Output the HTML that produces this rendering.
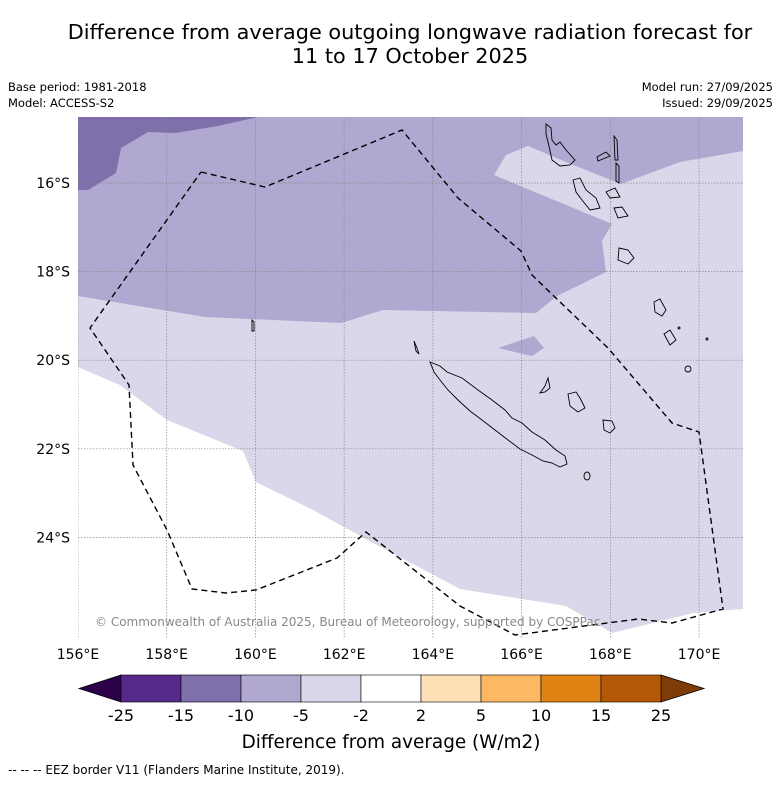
<!DOCTYPE html>
<html><head><meta charset="utf-8">
<style>
html,body{margin:0;padding:0;background:#fff;}
body{width:781px;height:781px;overflow:hidden;font-family:"DejaVu Sans","Liberation Sans",sans-serif;}
svg text{font-family:"DejaVu Sans","Liberation Sans",sans-serif;}
</style></head>
<body>
<svg id="chart" width="781" height="781" viewBox="0 0 781 781" xmlns="http://www.w3.org/2000/svg">
  <text x="410" y="39" font-size="20.8" text-anchor="middle" fill="#000">Difference from average outgoing longwave radiation forecast for</text>
  <text x="410" y="63" font-size="20.8" text-anchor="middle" fill="#000">11 to 17 October 2025</text>
  <text x="8" y="91" font-size="11.5">Base period: 1981-2018</text>
  <text x="8" y="107" font-size="11.5">Model: ACCESS-S2</text>
  <text x="773" y="91" font-size="11.5" text-anchor="end">Model run: 27/09/2025</text>
  <text x="773" y="107" font-size="11.5" text-anchor="end">Issued: 29/09/2025</text>

  <defs><clipPath id="mapclip"><rect x="78" y="117" width="665" height="522"/></clipPath></defs>
  <g id="map" clip-path="url(#mapclip)">
    <rect x="78" y="117" width="665" height="522" fill="#d8d8ea"/>
    <polygon fill="#b0a8d0" points="78,117 743,117 743,151 680,162 621,184 566,162 528,146 506,155 494,175 612,224 602,241 606,272 557,296 536,313 383,310 341,323 205,317 78,296"/>
    <polygon fill="#b0a8d0" points="498,348 534,336 544,348 532,356"/>
    <polygon fill="#7f6fab" points="78,117 258,117 218,126 175,133 148,132 121,148 116,173 88,190 78,190"/>
    <polygon fill="#ffffff" points="78,367 120,385 167,420 243,451 256,482 311,509 375,544 460,589 566,606 612,633 693,613 743,609 743,639 78,639"/>
    <g id="grid"></g>
    <g fill="none" stroke="#000" stroke-width="0.9">
      <path d="M430,362 L440,366 L447,372 L462,378 L478,390 L492,400 L505,410 L512,418 L522,423 L532,432 L545,440 L556,450 L565,456 L567,464 L560,467 L552,463 L543,461 L532,455 L520,449 L508,440 L495,430 L482,420 L470,411 L458,400 L448,390 L440,380 L434,372 Z"/>
      <path d="M414,341 L417,348 L419,354 L416,351 Z"/>
      <path d="M548,378 L550,388 L545,392 L540,393 L545,386 Z"/>
      <path d="M568,394 L576,392 L580,398 L585,408 L578,412 L570,406 Z"/>
      <path d="M603,420 L612,421 L615,428 L610,433 L604,430 Z"/>
      <ellipse cx="587" cy="476" rx="3" ry="4"/>
      <path d="M546,124 L551,128 L552,140 L556,145 L560,142 L566,150 L575,160 L570,165 L560,166 L552,160 L549,146 L546,134 Z"/>
      <path d="M614,136 L617,140 L618,160 L615,160 Z"/>
      <path d="M616,163 L619,166 L619,183 L616,181 Z"/>
      <path d="M597,157 L606,152 L610,156 L598,161 Z"/>
      <path d="M573,180 L580,178 L586,190 L596,198 L600,208 L590,210 L582,200 L576,192 Z"/>
      <path d="M606,192 L615,188 L620,197 L610,198 Z"/>
      <path d="M614,208 L622,207 L628,216 L618,218 Z"/>
      <path d="M619,248 L628,250 L634,258 L628,264 L618,260 Z"/>
      <path d="M654,302 L660,299 L666,310 L662,316 L655,312 Z"/>
      <path d="M664,334 L670,330 L676,340 L670,345 Z"/>
      <circle cx="688" cy="369" r="3"/>
      <circle cx="679" cy="328" r="1"/>
      <circle cx="707" cy="339" r="1"/>
      <path d="M252,320 L254,322 L254,331 L252,331 Z"/>
    </g>
    <polyline fill="none" stroke="#000" stroke-width="1.4" stroke-dasharray="6,4" points="201,172 265,187 402,130 458,198 521,251 532,275 608,348 672,423 699,432 723,609 672,623 638,619 515,635 460,606 366,532 337,558 256,590 226,593 192,589 167,530 133,465 129,385 90,328 201,172"/>
    <text x="95" y="626" font-size="12" fill="#888">© Commonwealth of Australia 2025, Bureau of Meteorology, supported by COSPPac</text>
  </g>
  <g id="axes"></g>
  <g id="cbar"></g>
  <text x="391" y="748" font-size="18.4" text-anchor="middle">Difference from average (W/m2)</text>
  <text x="8" y="774" font-size="12">--  --  -- EEZ border V11 (Flanders Marine Institute, 2019).</text>
</svg>
<script>
const lonTicks = [156,158,160,162,164,166,168,170];
const latTicks = [16,18,20,22,24];
const cbarBounds = [-25,-15,-10,-5,-2,2,5,10,15,25];
const cbarColors = ["#562a8a","#7f6fab","#b0a8d0","#d8d8ea","#ffffff","#fee0b6","#fdb863","#e08214","#b35806"];
const cbarUnder = "#2d004b", cbarOver = "#7f3b08";

const NS = "http://www.w3.org/2000/svg";
function mk(tag, attrs){const e=document.createElementNS(NS,tag);for(const k in attrs)e.setAttribute(k,attrs[k]);return e;}
const xLon = lon => 78 + (lon-156)*44.36;
const yLat = lat => 183 + (lat-16)*44.3;

const grid = document.getElementById('grid');
lonTicks.forEach(l=>{
  const ln = mk('line',{x1:xLon(l),x2:xLon(l),y1:117,y2:639,stroke:'#888','stroke-width':0.7,'stroke-dasharray':'1.5,1.5'});
  
  
  grid.appendChild(ln);
});
latTicks.forEach(l=>{
  const ln = mk('line',{x1:78,x2:743,y1:yLat(l),y2:yLat(l),stroke:'#888','stroke-width':0.7,'stroke-dasharray':'1.5,1.5'});
  
  
  grid.appendChild(ln);
});
const axes = document.getElementById('axes');
lonTicks.forEach(l=>{
  const t = mk('text',{x:xLon(l),y:659,'font-size':14,'text-anchor':'middle'});
  t.textContent = l+'°E';
  
  
  axes.appendChild(t);
});
latTicks.forEach(l=>{
  const t = mk('text',{x:70,y:yLat(l)+5,'font-size':14,'text-anchor':'end'});
  t.textContent = l+'°S';
  
  
  axes.appendChild(t);
});

const cbar = document.getElementById('cbar');
const cx0=121, cw=60, cy=675, ch=27;
const under = mk('polygon',{points:`${cx0},${cy} ${cx0},${cy+ch} 79,${cy+ch/2}`,fill:cbarUnder,stroke:'#000','stroke-width':0.8});


cbar.appendChild(under);
const endX = cx0 + cw*cbarColors.length;
const over = mk('polygon',{points:`${endX},${cy} ${endX},${cy+ch} 704,${cy+ch/2}`,fill:cbarOver,stroke:'#000','stroke-width':0.8});


cbar.appendChild(over);
cbarColors.forEach((c,i)=>{
  const r = mk('rect',{x:cx0+i*cw,y:cy,width:cw,height:ch,fill:c,stroke:'#000','stroke-width':0.6});
  
  
  cbar.appendChild(r);
});
cbarBounds.forEach((b,i)=>{
  const t = mk('text',{x:cx0+i*cw,y:721,'font-size':16,'text-anchor':'middle'});
  t.textContent = b;
  
  
  cbar.appendChild(t);
});
</script>
</body></html>
